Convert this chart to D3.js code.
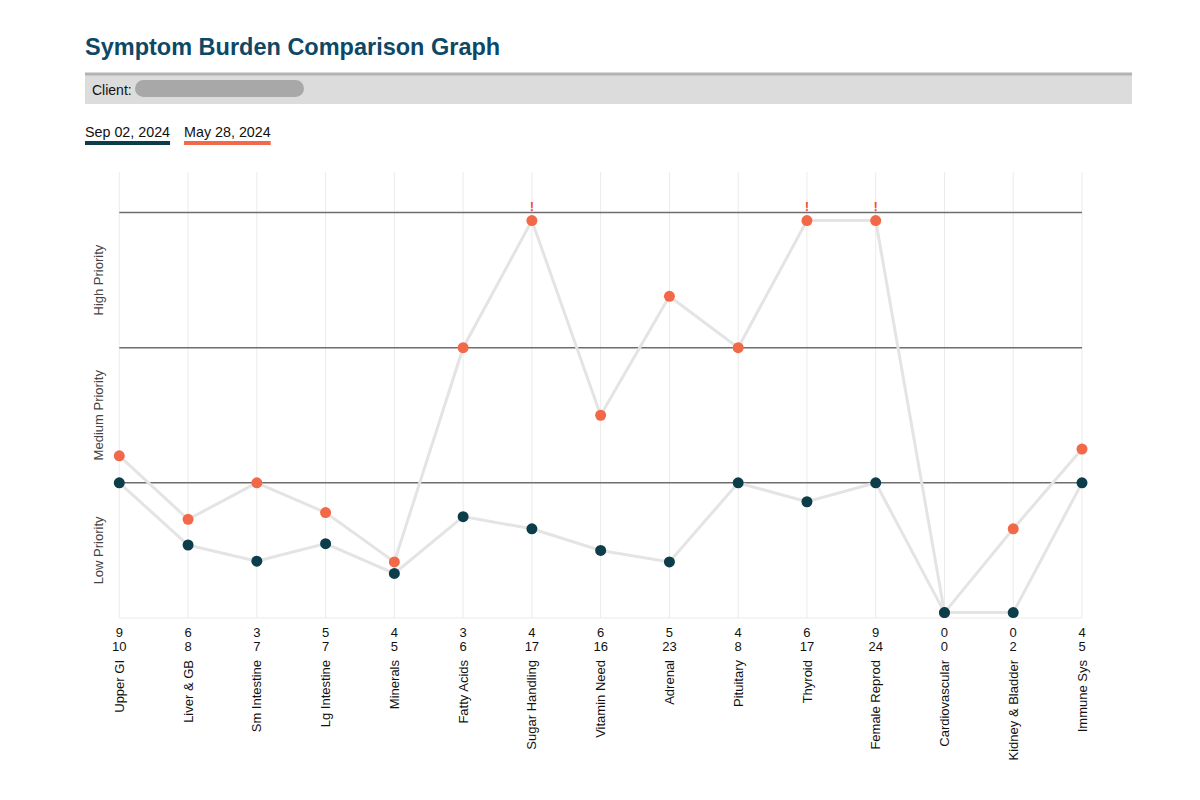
<!doctype html>
<meta charset="utf-8">
<style>
  body { margin: 0; background: #fff; }
  svg { font-family: "Liberation Sans", Arial, Helvetica, sans-serif; display: block; }
  .grid { stroke: #ebebeb; stroke-width: 1; }
  .band { stroke: #6e6e6e; stroke-width: 1.5; }
  .conn { fill: none; stroke: #e4e4e4; stroke-width: 3; }
  .val { font-size: 13px; text-anchor: middle; fill: #111; }
  .cat { font-size: 13px; text-anchor: end; fill: #111; }
  .prio { font-size: 13px; text-anchor: middle; fill: #444; }
</style>

<svg id="chart" width="1200" height="800"></svg>

<script src="https://d3js.org/d3.v7.min.js"></script>
<script>
  // data
  const categories = ["Upper GI", "Liver & GB", "Sm Intestine", "Lg Intestine", "Minerals",
    "Fatty Acids", "Sugar Handling", "Vitamin Need", "Adrenal", "Pituitary",
    "Thyroid", "Female Reprod", "Cardiovascular", "Kidney & Bladder", "Immune Sys"];
  const seriesNames = ["Sep 02, 2024", "May 28, 2024"];
  const sepScores = [9, 6, 3, 5, 4, 3, 4, 6, 5, 4, 6, 9, 0, 0, 4];
  const mayScores = [10, 8, 7, 7, 5, 6, 17, 16, 23, 8, 17, 24, 0, 2, 5];
  // plotted priority level (0 = none, 1 = low/med edge, 2 = med/high edge, 3 = top)
  const sepLevels = [1.0, 0.54, 0.42, 0.55, 0.33, 0.75, 0.66, 0.50, 0.415, 1.0, 0.86, 1.0, 0.04, 0.04, 1.0];
  const mayLevels = [1.2, 0.73, 1.0, 0.78, 0.415, 2.0, 2.94, 1.5, 2.38, 2.0, 2.94, 2.94, 0.04, 0.66, 1.25];
  const capLevel = 2.94;
  const bandEdges = [1, 2, 3];
  const bandNames = ["Low Priority", "Medium Priority", "High Priority"];

  const dark = "#0b3d4a", orange = "#f2694a";
  const svg = d3.select("#chart");

  // header
  svg.append("text").attr("x", 85).attr("y", 55)
    .attr("font-size", 23.5).attr("font-weight", "bold").attr("fill", "#0d4866")
    .text("Symptom Burden Comparison Graph");

  svg.append("rect").attr("x", 85).attr("y", 73).attr("width", 1047).attr("height", 31).attr("fill", "#dcdcdc");
  svg.append("rect").attr("x", 85).attr("y", 72.5).attr("width", 1047).attr("height", 3).attr("fill", "#b3b3b3");
  svg.append("text").attr("x", 92).attr("y", 95).attr("font-size", 14).attr("fill", "#111").text("Client:");
  svg.append("rect").attr("x", 135).attr("y", 80).attr("width", 169).attr("height", 17).attr("rx", 8.5).attr("fill", "#a8a8a8");

  // legend
  let lx = 85;
  seriesNames.forEach((name, i) => {
    const t = svg.append("text").attr("x", lx).attr("y", 137).attr("font-size", 14.3).attr("fill", "#111").text(name);
    const w = t.node().getComputedTextLength();
    svg.append("rect").attr("x", lx).attr("y", 141).attr("width", w).attr("height", 4)
      .attr("fill", i === 0 ? dark : orange);
    lx += w + 14;
  });

  // scales
  const x = d3.scalePoint().domain(categories).range([119.3, 1082]);
  const y = d3.scaleLinear().domain([0, 3]).range([618, 212.5]);
  const x0 = x.range()[0], x1 = x.range()[1];

  // grid
  svg.append("g").selectAll("line").data(categories).join("line")
    .attr("class", "grid")
    .attr("x1", d => x(d)).attr("x2", d => x(d))
    .attr("y1", 172).attr("y2", y(0));
  svg.append("line").attr("class", "grid")
    .attr("x1", x0).attr("x2", x1).attr("y1", y(0)).attr("y2", y(0));

  svg.append("g").selectAll("line").data(bandEdges).join("line")
    .attr("class", "band")
    .attr("x1", x0).attr("x2", x1)
    .attr("y1", d => y(d)).attr("y2", d => y(d));

  svg.append("g").selectAll("text").data(bandNames).join("text")
    .attr("class", "prio")
    .attr("transform", (d, i) => `translate(98,${y(i + 0.5)}) rotate(-90)`)
    .attr("dy", "0.35em")
    .text(d => d);

  // connectors
  const line = d3.line().x((d, i) => x(categories[i])).y(d => y(d));
  svg.append("path").attr("class", "conn").attr("d", line(mayLevels));
  svg.append("path").attr("class", "conn").attr("d", line(sepLevels));

  // dots
  svg.append("g").selectAll("circle").data(mayLevels).join("circle")
    .attr("cx", (d, i) => x(categories[i])).attr("cy", d => y(d))
    .attr("r", 5.5).attr("fill", orange);
  svg.append("g").selectAll("circle").data(sepLevels).join("circle")
    .attr("cx", (d, i) => x(categories[i])).attr("cy", d => y(d))
    .attr("r", 5.5).attr("fill", dark);

  // over-the-top flags
  svg.append("g").selectAll("text").data(mayLevels.map((d, i) => [d, i]).filter(p => p[0] >= capLevel)).join("text")
    .attr("x", p => x(categories[p[1]])).attr("y", y(3) - 1.5)
    .attr("text-anchor", "middle").attr("font-size", 13).attr("font-weight", "bold").attr("fill", "#ee4f3c")
    .text("!");

  // score labels + category names
  const ax = svg.append("g");
  ax.selectAll(".v1").data(sepScores).join("text").attr("class", "val v1")
    .attr("x", (d, i) => x(categories[i])).attr("y", 637).text(d => d);
  ax.selectAll(".v2").data(mayScores).join("text").attr("class", "val v2")
    .attr("x", (d, i) => x(categories[i])).attr("y", 651).text(d => d);
  ax.selectAll(".cat").data(categories).join("text").attr("class", "cat")
    .attr("transform", d => `translate(${x(d)},660) rotate(-90)`)
    .attr("dy", "0.35em")
    .text(d => d);
</script>
